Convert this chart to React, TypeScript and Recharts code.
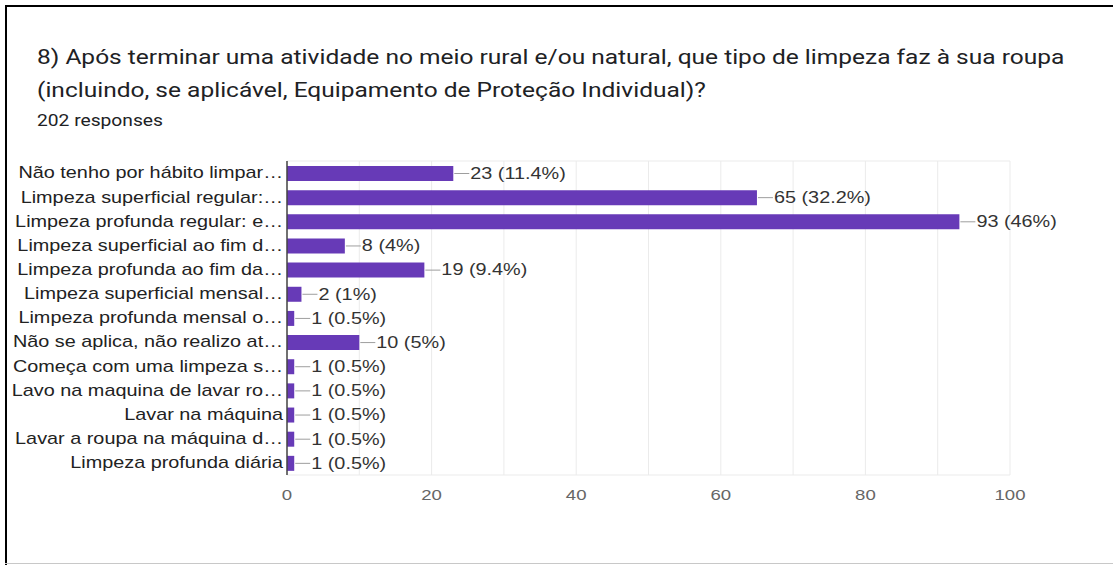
import { Bar, BarChart, CartesianGrid, LabelList, XAxis, YAxis } from 'recharts';

const categories = [
  'Não tenho por hábito limpar…',
  'Limpeza superficial regular:…',
  'Limpeza profunda regular: e…',
  'Limpeza superficial ao fim d…',
  'Limpeza profunda ao fim da…',
  'Limpeza superficial mensal…',
  'Limpeza profunda mensal o…',
  'Não se aplica, não realizo at…',
  'Começa com uma limpeza s…',
  'Lavo na maquina de lavar ro…',
  'Lavar na máquina',
  'Lavar a roupa na máquina d…',
  'Limpeza profunda diária',
];

const counts = [23, 65, 93, 8, 19, 2, 1, 10, 1, 1, 1, 1, 1];
const totalResponses = 202;
const xTicks = [0, 20, 40, 60, 80, 100];
const gridSteps = [0, 10, 20, 30, 40, 50, 60, 70, 80, 90, 100];

const data = categories.map((name, i) => ({ name, count: counts[i] }));

const BAR_COLOR = '#673ab7';
const CHART_FONT = '"Liberation Sans", Arial, sans-serif';
// the source screenshot is stretched horizontally
const STRETCH = 1.24;

function pctText(v: number) {
  const p = Math.round((v / totalResponses) * 1000) / 10;
  return `${v} (${p}%)`;
}

function ValueLabel(props: any) {
  const { x, y, width, height, value } = props;
  const x1 = Number(x) + Number(width);
  const cy = Number(y) + Number(height) / 2;
  return (
    <g>
      <line x1={x1 + 1} y1={cy} x2={x1 + 16} y2={cy} stroke="#9e9e9e" strokeWidth={1} />
      <text
        x={0}
        y={0}
        transform={`translate(${x1 + 17},${cy}) scale(${STRETCH},1)`}
        dominantBaseline="central"
        fontSize={16}
        fontFamily={CHART_FONT}
        fill="#333"
      >
        {pctText(Number(value))}
      </text>
    </g>
  );
}

function CategoryTick(props: any) {
  const { x, y, payload } = props;
  return (
    <text
      x={0}
      y={0}
      transform={`translate(${x},${y}) scale(${STRETCH},1)`}
      textAnchor="end"
      dominantBaseline="central"
      fontSize={16}
      fontFamily={CHART_FONT}
      fill="#222"
    >
      {payload.value}
    </text>
  );
}

function NumberTick(props: any) {
  const { x, y, payload } = props;
  return (
    <text
      x={0}
      y={0}
      transform={`translate(${x},${y}) scale(${STRETCH},1)`}
      textAnchor="middle"
      dominantBaseline="central"
      fontSize={15}
      fontFamily={CHART_FONT}
      fill="#666"
    >
      {payload.value}
    </text>
  );
}

export default function App() {
  return (
    <div
      style={{
        position: 'absolute',
        left: 0,
        top: 0,
        width: 1113,
        height: 565,
        background: '#fff',
        overflow: 'hidden',
      }}
    >
      {/* frame */}
      <div style={{ position: 'absolute', left: 5, top: 5, width: 1108, height: 2, background: '#000' }} />
      <div style={{ position: 'absolute', left: 5, top: 5, width: 2, height: 560, background: '#000' }} />
      <div style={{ position: 'absolute', left: 5, top: 563, width: 1108, height: 1, background: '#c8c8c8' }} />

      {/* heading */}
      <div
        style={{
          position: 'absolute',
          left: 37,
          top: 41,
          fontFamily: 'Roboto, sans-serif',
          fontSize: 21,
          lineHeight: '33px',
          color: '#202124',
          whiteSpace: 'nowrap',
          transform: 'scaleX(1.167)',
          transformOrigin: 'left top',
        }}
      >
        <div>8) Após terminar uma atividade no meio rural e/ou natural, que tipo de limpeza faz à sua roupa</div>
        <div>(incluindo, se aplicável, Equipamento de Proteção Individual)?</div>
      </div>
      <div
        style={{
          position: 'absolute',
          left: 37,
          top: 111,
          fontFamily: 'Roboto, sans-serif',
          fontSize: 16,
          color: '#202124',
          whiteSpace: 'nowrap',
          transform: 'scaleX(1.2)',
          transformOrigin: 'left top',
        }}
      >
        202 responses
      </div>

      <div style={{ position: 'absolute', left: 0, top: 0 }}>
        <BarChart
          width={1113}
          height={565}
          data={data}
          layout="vertical"
          margin={{ top: 161, right: 103, bottom: 60, left: 0 }}
        >
          <CartesianGrid
            stroke="#ebebeb"
            horizontalCoordinatesGenerator={({ offset }: any) => [offset.top, offset.top + offset.height]}
            verticalCoordinatesGenerator={({ offset }: any) =>
              gridSteps.map((v) => offset.left + (offset.width * v) / 100)
            }
          />
          <XAxis
            type="number"
            domain={[0, 100]}
            ticks={xTicks}
            axisLine={false}
            tickLine={false}
            tickSize={0}
            tickMargin={20}
            height={30}
            tick={<NumberTick />}
          />
          <YAxis
            type="category"
            dataKey="name"
            width={287}
            axisLine={{ stroke: '#444', strokeWidth: 1.5 }}
            tickLine={false}
            tickSize={0}
            tickMargin={4}
            interval={0}
            tick={<CategoryTick />}
          />
          <Bar dataKey="count" fill={BAR_COLOR} barSize={15} isAnimationActive={false}>
            <LabelList dataKey="count" content={ValueLabel} />
          </Bar>
        </BarChart>
      </div>
    </div>
  );
}
